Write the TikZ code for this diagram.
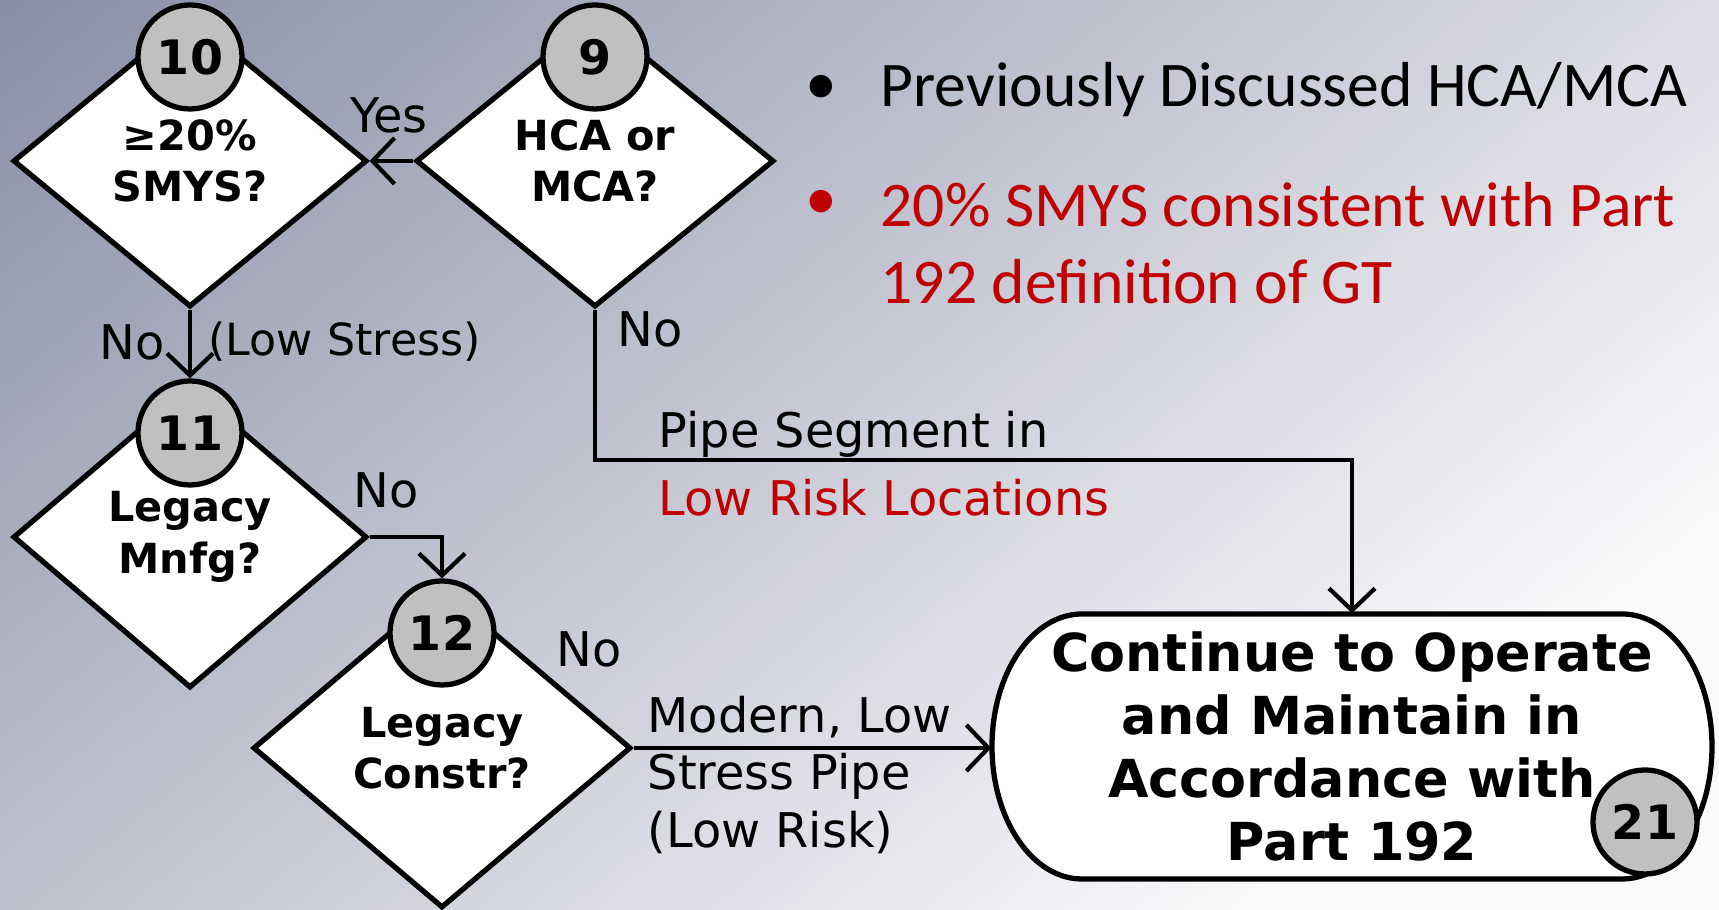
\documentclass[tikz,border=0pt]{standalone}
\usepackage{fontspec}
\setmainfont{DejaVu Sans}
\newfontfamily\puce{Carlito}
\usetikzlibrary{shapes.geometric, arrows.meta, positioning}
\definecolor{rouge}{RGB}{192,0,0}
\definecolor{gris}{RGB}{192,192,192}
\definecolor{fondA}{RGB}{138,143,166}
\definecolor{fondB}{RGB}{250,250,252}
\newcommand{\tq}{\fontsize{11.8pt}{14.6pt}\selectfont\bfseries}
\newcommand{\nq}{\fontsize{13.5pt}{16pt}\selectfont\bfseries}
\newcommand{\fq}{\fontsize{14.9pt}{17.9pt}\selectfont\bfseries}
\newcommand{\eq}{\fontsize{13.6pt}{16.4pt}\selectfont}
\newcommand{\bq}{\puce\fontsize{18.1pt}{21.9pt}\selectfont}

\begin{document}
\begin{tikzpicture}[auto]

	\tikzstyle{losange}=[diamond, draw=black, line width=1.5pt, fill=white, inner sep=0pt, minimum width=3.54cm, minimum height=2.92cm, align=center, font=\tq]
	\tikzstyle{pastille}=[circle, draw=black, line width=1.5pt, fill=gris, minimum size=1.04cm, inner sep=0pt, font=\nq]
	\tikzstyle{fin}=[rectangle, minimum width=7.2cm, minimum height=2.65cm, align=center, font=\fq]
	\tikzstyle{arc}=[->,>={Straight Barb[length=2.2mm,width=4.6mm]}, line width=1.2pt, black]
	\tikzstyle{etiq}=[font=\eq, inner sep=0pt]
	\tikzstyle{item}=[font=\bq, inner sep=0pt, align=left, anchor=west]

	% fond degrade (bandes en biais)
	\begin{scope}
		\clip (0,0) rectangle (17.19,9.10);
		\begin{scope}[shift={(0,9.10)}, rotate=-50.5]
			\foreach \i in {0,...,99}
				\fill[fondB!\i!fondA] (\i*0.1497,-6.5) rectangle ({(\i+1)*0.1497+0.02},14);
			\fill[fondB] (14.97,-6.5) rectangle (19,14);
		\end{scope}
	\end{scope}
	\useasboundingbox (0,0) rectangle (17.19,9.10);

	% boite finale (contour aplati)
	\draw[line width=1.5pt, fill=white] (10.82,2.96) -- (16.22,2.96)
		arc[start angle=90, end angle=-90, x radius=0.9cm, y radius=1.325cm] -- (10.82,0.31)
		arc[start angle=270, end angle=90, x radius=0.9cm, y radius=1.325cm] -- cycle;

	% losanges de decision
	\node[losange] (d10) at (1.90,7.49) {≥20\%\\SMYS?};
	\node[losange, minimum width=3.58cm] (d9) at (5.95,7.49) {HCA or\\MCA?};
	\node[losange, minimum height=3.02cm] (d11) at (1.90,3.73) {Legacy\\Mnfg?};
	\node[losange, minimum width=3.78cm, minimum height=3.20cm] (d12) at (4.42,1.62) {Legacy\\Constr?};
	\node[fin] (term) at (13.52,1.635) {Continue to Operate\\and Maintain in\\Accordance with\\Part 192};

	% numeros
	\node[pastille] (c10) at (1.90,8.53) {10};
	\node[pastille] (c9) at (5.95,8.53) {9};
	\node[pastille] (c11) at (1.90,4.77) {11};
	\node[pastille] (c12) at (4.42,2.77) {12};
	\node[pastille] (c21) at (16.45,0.88) {21};

	% fleches
	\coordinate (coude) at (5.95,4.50);
	\draw[arc] (d9.west) -- (d10.east);
	\draw[arc] (d10.south) -- (c11.north);
	\draw[arc] (d11.east) -| (c12.north);
	\draw[arc] (d12.east) -- (d12.east -| term.west);
	\draw[arc] (d9.south) -- (coude) -| (term.north);

	% etiquettes
	\node[etiq] (yes) at (3.89,7.95) {Yes};
	\node[etiq] (no10) at (1.32,5.68) {No};
	\node[etiq, anchor=west, font=\fontsize{12.6pt}{15pt}\selectfont] (stress) at (2.08,5.68) {(Low Stress)};
	\node[etiq] (no9) at (6.50,5.81) {No};
	\node[etiq] (no11) at (3.86,4.20) {No};
	\node[etiq] (no12) at (5.89,2.61) {No};
	\node[etiq, anchor=west, align=left] (segment) at (6.58,4.46) {Pipe Segment in\\[3pt]\textcolor{rouge}{Low Risk Locations}};
	\node[etiq, anchor=west, align=left] (modern) at (6.47,1.35) {Modern, Low\\Stress Pipe\\(Low Risk)};

	% puces
	\node[item] (b1) at (8.05,8.20) {•};
	\node[item] (t1) at (8.80,8.20) {Previously Discussed HCA/MCA};
	\node[item, text=rouge] (b2) at (8.05,7.05) {•};
	\node[item, text=rouge] (t2) at (8.80,6.665) {20\% SMYS consistent with Part\\192 definition of GT};

\end{tikzpicture}
\end{document}
